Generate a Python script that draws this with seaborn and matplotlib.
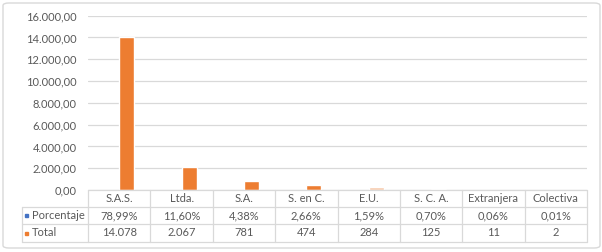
import matplotlib.pyplot as plt
import matplotlib.transforms as mtransforms
from matplotlib.lines import Line2D
from matplotlib.patches import FancyBboxPatch, Rectangle
import pandas as pd
import seaborn as sns

tipos = ["S.A.S.", "Ltda.", "S.A.", "S. en C.", "E.U.", "S. C. A.", "Extranjera", "Colectiva"]
porcentaje = [0.7899, 0.1160, 0.0438, 0.0266, 0.0159, 0.0070, 0.0006, 0.0001]
total = [14078, 2067, 781, 474, 284, 125, 11, 2]
yticks = [0, 2000, 4000, 6000, 8000, 10000, 12000, 14000, 16000]

blue = "#4472C4"
orange = "#ED7D31"
light_orange = "#F8CBAD"
grid_c = "#D9D9D9"
text_c = "#595959"
fs = 8

sns.set_theme(style="white")
plt.rcParams["font.family"] = ["Lato", "DejaVu Sans"]

df = pd.DataFrame({
    "tipo": tipos * 2,
    "valor": porcentaje + total,
    "serie": ["Porcentaje"] * len(tipos) + ["Total"] * len(tipos),
})

W, H = 602, 252
fig = plt.figure(figsize=(W / 100, H / 100), dpi=100)
fx = lambda px: px / W
fy = lambda py: 1 - py / H

ax = fig.add_axes([fx(88), fy(190), fx(587) - fx(88), fy(15.7) - fy(190)])
sns.barplot(data=df, x="tipo", y="valor", hue="serie", palette=[blue, orange],
            width=0.48, saturation=1, legend=False, ax=ax)
# E.U. bar is highlighted lighter in the original
ax.containers[1].patches[4].set_facecolor(light_orange)

ax.set_xlim(-0.5, len(tipos) - 0.5)
ax.set_ylim(0, 16000)
ax.set_yticks(yticks)
ax.set_yticklabels([f"{v:,.2f}".replace(",", "X").replace(".", ",").replace("X", ".") for v in yticks],
                   color=text_c, fontsize=fs)
ax.tick_params(axis="y", length=0, pad=8)
ax.set_xticks([])
ax.set_xlabel("")
ax.set_ylabel("")
ax.grid(axis="y", color=grid_c, linewidth=0.9)
ax.set_axisbelow(True)
for s in ax.spines.values():
    s.set_visible(False)

# data table under the chart
trans = mtransforms.blended_transform_factory(ax.transData, fig.transFigure)
rows = [190, 207, 224, 242]
line_kw = dict(color=grid_c, linewidth=0.9)
for i, r in enumerate(rows):
    x0 = fx(88) if i == 0 else fx(22)
    fig.add_artist(Line2D([x0, fx(587)], [fy(r), fy(r)], **line_kw))
fig.add_artist(Line2D([fx(22), fx(22)], [fy(207), fy(242)], **line_kw))
for b in range(len(tipos) + 1):
    fig.add_artist(Line2D([b - 0.5, b - 0.5], [fy(190), fy(242)], transform=trans, **line_kw))

for i, t in enumerate(tipos):
    fig.text(i, fy(198.5), t, transform=trans, ha="center", va="center", fontsize=fs, color=text_c)
    fig.text(i, fy(215.5), f"{porcentaje[i] * 100:.2f}%".replace(".", ","), transform=trans,
             ha="center", va="center", fontsize=fs, color=text_c)
    fig.text(i, fy(233), f"{total[i]:,}".replace(",", "."), transform=trans,
             ha="center", va="center", fontsize=fs, color=text_c)

for name, c, yc in [("Porcentaje", blue, 215.5), ("Total", orange, 233)]:
    fig.add_artist(Rectangle((fx(25), fy(yc + 1.5)), fx(3), fy(0) - fy(3), color=c))
    fig.text(fx(32), fy(yc), name, ha="left", va="center", fontsize=fs, color=text_c)

fig.add_artist(FancyBboxPatch((fx(3), fy(248)), fx(597), fy(3) - fy(248),
                              boxstyle="round,pad=0,rounding_size=0.01",
                              facecolor="none", edgecolor=grid_c, linewidth=1))

fig.savefig("out.png", dpi=100)
